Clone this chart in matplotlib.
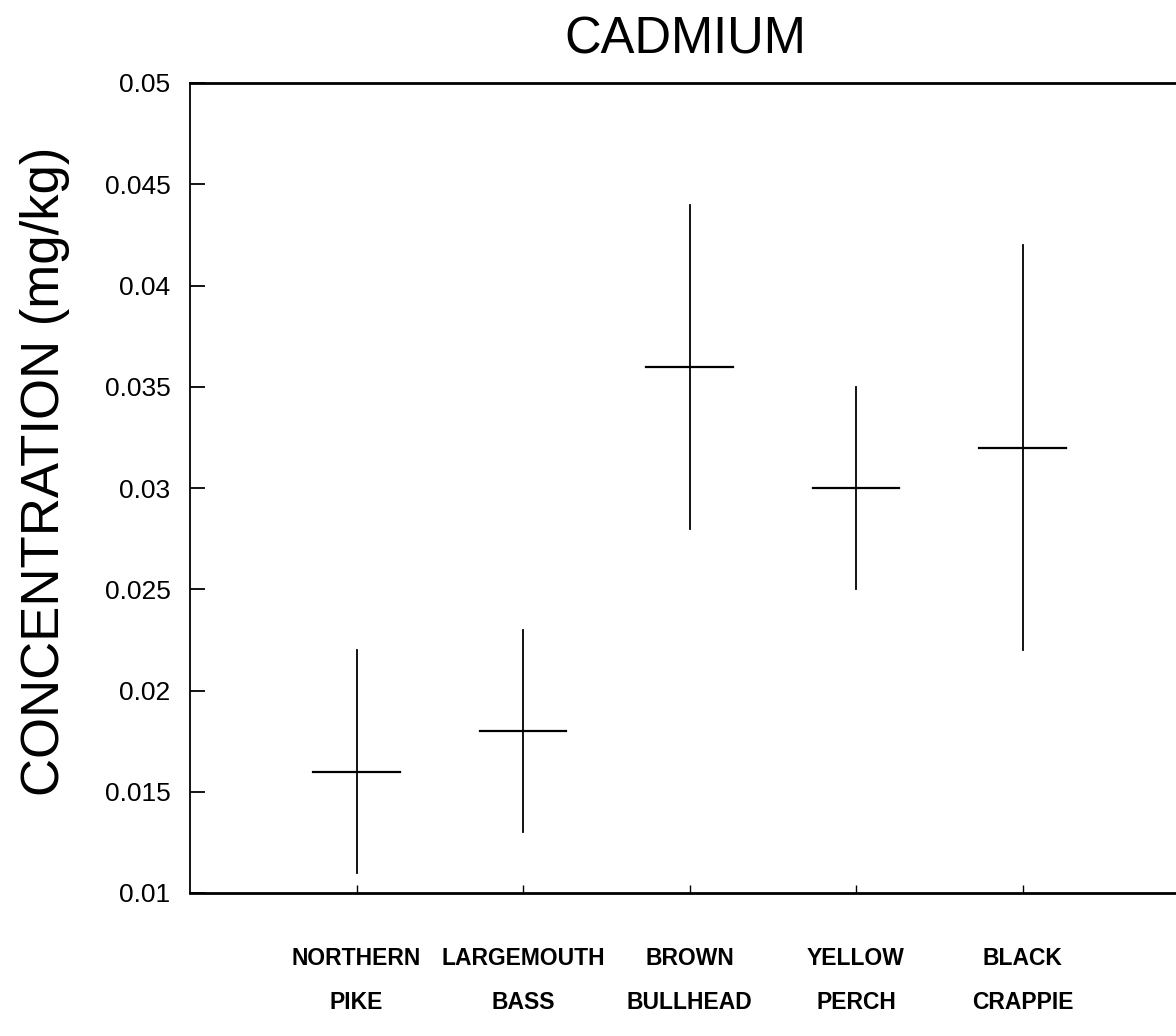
import matplotlib.pyplot as plt

species = ["NORTHERN\nPIKE", "LARGEMOUTH\nBASS", "BROWN\nBULLHEAD", "YELLOW\nPERCH", "BLACK\nCRAPPIE"]
mean_conc = [0.016, 0.018, 0.036, 0.030, 0.032]
low_conc = [0.011, 0.013, 0.028, 0.025, 0.022]
high_conc = [0.022, 0.023, 0.044, 0.035, 0.042]

plt.rcParams['font.family'] = ['Liberation Sans', 'DejaVu Sans']

fig = plt.figure(figsize=(11.76, 10.36), dpi=100)
ax = fig.add_axes([190 / 1176, 143 / 1036, 999 / 1176, 810 / 1036])

xpos = list(range(1, len(species) + 1))
half = 0.26
for x, m, lo, hi in zip(xpos, mean_conc, low_conc, high_conc):
    ax.plot([x, x], [lo, hi], color="black", lw=1.3)
    ax.plot([x - half, x + half], [m, m], color="black", lw=1.6)

ax.set_xlim(0, 6)
ax.set_ylim(0.01, 0.05)
ax.set_yticks([0.01, 0.015, 0.02, 0.025, 0.03, 0.035, 0.04, 0.045, 0.05])
ax.set_yticklabels(["0.01", "0.015", "0.02", "0.025", "0.03", "0.035", "0.04", "0.045", "0.05"])
ax.set_xticks(xpos)
ax.set_xticklabels(species, fontsize=16.5, fontweight="bold", linespacing=2.15)

ax.tick_params(axis="y", direction="in", length=11, width=1.3, labelsize=19, pad=14)
ax.tick_params(axis="x", direction="in", length=6, width=1, pad=39)

ax.spines["right"].set_visible(False)
ax.spines["left"].set_linewidth(1.3)
ax.spines["bottom"].set_linewidth(2)
ax.spines["top"].set_linewidth(2)

ax.set_ylabel("CONCENTRATION (mg/kg)", fontsize=38)
ax.yaxis.set_label_coords(-0.12, 0.52)
fig.text(685 / 1176, 1 - 40 / 1036, "CADMIUM", fontsize=36.5, ha="center", va="center")

fig.savefig("out.png", dpi=100)
